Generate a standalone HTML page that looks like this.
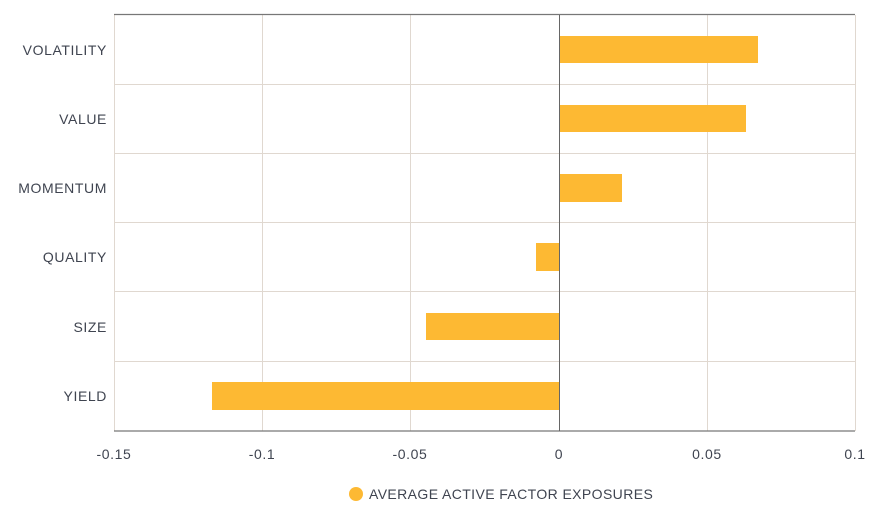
<!DOCTYPE html>
<html><head><meta charset="utf-8"><style>
html,body{margin:0;padding:0;background:#fff;}
svg{display:block;font-family:"Liberation Sans",sans-serif;}
</style></head><body>
<svg width="870" height="520" viewBox="0 0 870 520" xmlns="http://www.w3.org/2000/svg">
<g stroke="#e0d8d0" stroke-width="1">
<line x1="114.5" y1="15" x2="114.5" y2="431"/>
<line x1="262.5" y1="15" x2="262.5" y2="431"/>
<line x1="410.5" y1="15" x2="410.5" y2="431"/>
<line x1="707.5" y1="15" x2="707.5" y2="431"/>
<line x1="855.5" y1="15" x2="855.5" y2="431"/>
<line x1="114" y1="84.5" x2="855" y2="84.5"/>
<line x1="114" y1="153.5" x2="855" y2="153.5"/>
<line x1="114" y1="222.5" x2="855" y2="222.5"/>
<line x1="114" y1="291.5" x2="855" y2="291.5"/>
<line x1="114" y1="361.5" x2="855" y2="361.5"/>
</g>
<g fill="#fdb933">
<rect x="559" y="36" width="199" height="27"/>
<rect x="559" y="105" width="187" height="27"/>
<rect x="559" y="174" width="63" height="28"/>
<rect x="536" y="243" width="23" height="28"/>
<rect x="426" y="313" width="133" height="27"/>
<rect x="212" y="382" width="347" height="28"/>
</g>
<line x1="114" y1="14.5" x2="855" y2="14.5" stroke="#777" stroke-width="1.2"/>
<line x1="114" y1="431" x2="855" y2="431" stroke="#777" stroke-width="1.2"/>
<line x1="559.5" y1="15" x2="559.5" y2="431" stroke="#666" stroke-width="1"/>
<g fill="#3f4450" font-size="14" text-anchor="end" letter-spacing="0.6">
<text x="107" y="55">VOLATILITY</text>
<text x="107" y="124">VALUE</text>
<text x="107" y="193">MOMENTUM</text>
<text x="107" y="262">QUALITY</text>
<text x="107" y="332">SIZE</text>
<text x="107" y="401">YIELD</text>
</g>
<g fill="#3f4450" font-size="14" text-anchor="middle" letter-spacing="0.6">
<text x="114" y="459">-0.15</text>
<text x="262" y="459">-0.1</text>
<text x="410" y="459">-0.05</text>
<text x="559" y="459">0</text>
<text x="707" y="459">0.05</text>
<text x="855" y="459">0.1</text>
</g>
<circle cx="356" cy="494" r="7" fill="#fdb933"/>
<text x="369" y="499" fill="#3f4450" font-size="14" letter-spacing="0.4">AVERAGE ACTIVE FACTOR EXPOSURES</text>
</svg>
</body></html>
